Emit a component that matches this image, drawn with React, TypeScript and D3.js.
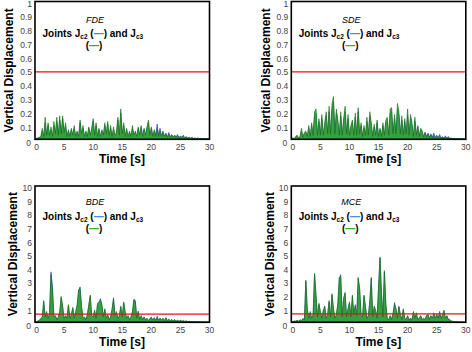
import * as d3 from 'd3';

// samples are 0.25 s apart, 0..30 s (121 values per series)
const STEP = 0.25;

const xTicks = [0, 5, 10, 15, 20, 25, 30];
const smallYTicks = [0, 0.1, 0.2, 0.3, 0.4, 0.5, 0.6, 0.7, 0.8, 0.9, 1];
const largeYTicks = [0, 1, 2, 3, 4, 5, 6, 7, 8, 9, 10];

// limit lines
const fdeLimit = 0.49;
const sdeLimit = 0.49;
const bdeLimit = 0.6;
const mceLimit = 0.62;

// FDE
const fdeJc3 = [
  0, 0.005, 0.01, 0.015, 0.02, 0.08, 0.02, 0.16, 0.03, 0.12, 0.03, 0.09, 0.02, 0.13, 0.04, 0.16, 0.03, 0.17, 0.04, 0.17,
  0.05, 0.12, 0.02, 0.07, 0.02, 0.08, 0.03, 0.1, 0.02, 0.06, 0.02, 0.14, 0.04, 0.1, 0.02, 0.06, 0.02, 0.09, 0.03, 0.08,
  0.15, 0.03, 0.12, 0.02, 0.08, 0.02, 0.07, 0.03, 0.12, 0.04, 0.13, 0.03, 0.1, 0.02, 0.09, 0.03, 0.05, 0.16, 0.03, 0.22,
  0.04, 0.12, 0.02, 0.08, 0.02, 0.06, 0.02, 0.1, 0.03, 0.06, 0.02, 0.09, 0.03, 0.1, 0.02, 0.08, 0.03, 0.09, 0.14, 0.03,
  0.09, 0.02, 0.07, 0.02, 0.07, 0.02, 0.06, 0.02, 0.05, 0.02, 0.04, 0.015, 0.035, 0.015, 0.03, 0.015, 0.03, 0.012, 0.025, 0.01,
  0.02, 0.015, 0.02, 0.01, 0.015, 0.01, 0.012, 0.008, 0.01, 0.006, 0.008, 0.005, 0.006, 0.004, 0.005, 0.004, 0.004, 0.003, 0.004, 0.003,
  0.003,
];
const fdeJc2 = [
  0, 0.004, 0.008, 0.012, 0.015, 0.06, 0.015, 0.12, 0.025, 0.1, 0.02, 0.07, 0.015, 0.1, 0.03, 0.13, 0.025, 0.14, 0.03, 0.15,
  0.04, 0.1, 0.015, 0.06, 0.015, 0.07, 0.02, 0.08, 0.015, 0.05, 0.015, 0.12, 0.03, 0.08, 0.015, 0.05, 0.015, 0.08, 0.02, 0.07,
  0.13, 0.025, 0.1, 0.015, 0.07, 0.015, 0.06, 0.02, 0.1, 0.03, 0.11, 0.02, 0.08, 0.015, 0.07, 0.02, 0.04, 0.14, 0.02, 0.19,
  0.03, 0.1, 0.015, 0.07, 0.015, 0.05, 0.015, 0.08, 0.02, 0.05, 0.015, 0.08, 0.02, 0.09, 0.015, 0.07, 0.02, 0.08, 0.12, 0.02,
  0.08, 0.02, 0.06, 0.03, 0.11, 0.03, 0.08, 0.02, 0.06, 0.02, 0.045, 0.015, 0.05, 0.015, 0.035, 0.015, 0.03, 0.015, 0.035, 0.012,
  0.025, 0.012, 0.03, 0.01, 0.02, 0.008, 0.015, 0.007, 0.014, 0.006, 0.01, 0.005, 0.01, 0.005, 0.008, 0.004, 0.007, 0.004, 0.006, 0.004,
  0.004,
];

// SDE
const sdeJc3 = [
  0, 0.01, 0.005, 0.02, 0.03, 0.01, 0.02, 0.08, 0.015, 0.05, 0.06, 0.02, 0.1, 0.02, 0.12, 0.03, 0.2, 0.22, 0.03, 0.15,
  0.03, 0.18, 0.03, 0.12, 0.2, 0.04, 0.24, 0.04, 0.26, 0.31, 0.04, 0.22, 0.14, 0.03, 0.2, 0.03, 0.15, 0.24, 0.04, 0.18,
  0.03, 0.1, 0.14, 0.03, 0.19, 0.03, 0.23, 0.04, 0.12, 0.02, 0.1, 0.03, 0.16, 0.03, 0.2, 0.12, 0.02, 0.11, 0.03, 0.14,
  0.02, 0.08, 0.02, 0.12, 0.03, 0.14, 0.16, 0.03, 0.22, 0.23, 0.04, 0.18, 0.04, 0.26, 0.2, 0.04, 0.17, 0.03, 0.15, 0.04,
  0.22, 0.03, 0.18, 0.12, 0.02, 0.16, 0.03, 0.1, 0.02, 0.08, 0.06, 0.015, 0.05, 0.012, 0.04, 0.01, 0.03, 0.01, 0.025, 0.008,
  0.02, 0.015, 0.018, 0.01, 0.012, 0.008, 0.01, 0.006, 0.012, 0.005, 0.006, 0.004, 0.005, 0.003, 0.004, 0.003, 0.003, 0.002, 0.003, 0.002,
  0.002,
];
const sdeJc2 = [
  0, 0.008, 0.004, 0.015, 0.025, 0.008, 0.015, 0.06, 0.01, 0.04, 0.05, 0.015, 0.08, 0.015, 0.1, 0.02, 0.17, 0.19, 0.02, 0.13,
  0.025, 0.15, 0.02, 0.1, 0.17, 0.03, 0.2, 0.03, 0.22, 0.27, 0.03, 0.19, 0.12, 0.02, 0.17, 0.02, 0.13, 0.2, 0.03, 0.15,
  0.02, 0.08, 0.12, 0.02, 0.16, 0.02, 0.2, 0.03, 0.1, 0.015, 0.08, 0.02, 0.13, 0.02, 0.17, 0.1, 0.015, 0.09, 0.02, 0.12,
  0.015, 0.07, 0.015, 0.1, 0.02, 0.12, 0.13, 0.02, 0.19, 0.2, 0.03, 0.15, 0.03, 0.22, 0.17, 0.03, 0.14, 0.02, 0.13, 0.03,
  0.18, 0.02, 0.15, 0.1, 0.015, 0.13, 0.02, 0.09, 0.015, 0.07, 0.05, 0.02, 0.05, 0.02, 0.045, 0.015, 0.04, 0.015, 0.045, 0.012,
  0.03, 0.012, 0.035, 0.01, 0.02, 0.008, 0.025, 0.007, 0.02, 0.006, 0.01, 0.005, 0.008, 0.004, 0.006, 0.004, 0.005, 0.003, 0.004, 0.003,
  0.003,
];

// BDE
const bdeJc3 = [
  0, 0.05, 0.1, 0.15, 0.3, 0.4, 1.6, 0.4, 0.8, 0.3, 0.7, 3.5, 2.4, 0.4, 0.5, 0.2, 0.4, 0.8, 1.9, 1.2,
  0.3, 0.5, 0.3, 1.3, 0.3, 0.6, 1.1, 0.3, 0.8, 1.3, 2.4, 2.5, 1.2, 0.3, 0.4, 0.2, 0.6, 1.3, 2.0, 0.5,
  0.4, 0.9, 0.3, 1.4, 1.5, 1.6, 1.3, 0.4, 1.0, 0.3, 0.6, 0.2, 0.4, 1.0, 1.7, 0.5, 0.8, 0.3, 0.5, 1.2,
  0.4, 1.5, 0.8, 0.3, 0.5, 0.2, 0.4, 0.8, 1.6, 1.5, 0.3, 0.8, 0.2, 0.5, 0.2, 0.4, 0.2, 0.3, 0.15, 0.25,
  0.3, 0.15, 0.35, 0.15, 0.3, 0.15, 0.3, 0.15, 0.3, 0.12, 0.35, 0.12, 0.25, 0.1, 0.2, 0.1, 0.2, 0.08, 0.15, 0.08,
  0.15, 0.08, 0.12, 0.06, 0.1, 0.05, 0.08, 0.04, 0.06, 0.04, 0.05, 0.03, 0.04, 0.03, 0.03, 0.02, 0.03, 0.02, 0.02, 0.02,
  0.02,
];
const bdeJc2 = [
  0, 0.04, 0.08, 0.12, 0.25, 0.35, 1.5, 0.35, 0.7, 0.25, 0.6, 3.7, 2.6, 0.35, 0.45, 0.2, 0.35, 0.7, 1.8, 1.1,
  0.25, 0.45, 0.25, 1.25, 0.25, 0.5, 1.0, 0.25, 0.7, 1.2, 2.3, 2.6, 1.1, 0.25, 0.35, 0.2, 0.5, 1.2, 1.9, 0.45,
  0.35, 0.8, 0.25, 1.3, 1.4, 1.75, 1.2, 0.35, 0.9, 0.25, 0.5, 0.2, 0.35, 0.9, 1.8, 0.45, 0.7, 0.25, 0.45, 1.1,
  0.35, 1.4, 0.7, 0.25, 0.45, 0.2, 0.35, 0.7, 1.7, 1.6, 0.25, 0.8, 0.2, 0.45, 0.2, 0.35, 0.2, 0.25, 0.15, 0.25,
  0.4, 0.15, 0.3, 0.15, 0.45, 0.15, 0.3, 0.15, 0.25, 0.12, 0.3, 0.12, 0.2, 0.1, 0.2, 0.08, 0.18, 0.08, 0.14, 0.08,
  0.12, 0.08, 0.1, 0.06, 0.09, 0.05, 0.07, 0.04, 0.06, 0.04, 0.05, 0.03, 0.04, 0.03, 0.03, 0.02, 0.03, 0.02, 0.02, 0.02,
  0.02,
];

// MCE
const mceJc3 = [
  0, 0.05, 0.1, 0.08, 0.15, 0.08, 0.2, 0.1, 0.3, 0.15, 3.1, 1.0, 0.3, 0.8, 0.3, 0.6, 3.6, 2.0, 0.4, 1.4,
  0.8, 0.3, 0.9, 1.1, 0.3, 0.6, 1.6, 0.4, 2.1, 1.0, 0.3, 0.6, 1.4, 3.3, 3.3, 0.4, 1.8, 2.2, 0.4, 1.0,
  1.5, 0.4, 2.0, 0.6, 1.3, 0.5, 3.3, 2.5, 0.5, 0.4, 2.0, 1.2, 0.3, 0.5, 1.6, 3.2, 0.4, 1.2, 0.9, 0.3,
  2.6, 4.8, 2.2, 0.4, 3.8, 1.4, 0.3, 0.2, 0.5, 0.2, 0.7, 1.3, 1.0, 0.3, 1.2, 0.6, 0.2, 1.0, 0.3, 0.2,
  0.5, 0.15, 0.3, 0.15, 0.8, 0.3, 0.7, 0.2, 0.3, 0.5, 0.2, 0.3, 0.2, 0.5, 0.6, 0.2, 0.5, 0.3, 0.7, 0.3,
  0.6, 0.3, 0.7, 0.3, 0.6, 0.9, 0.3, 0.5, 0.2, 0.2, 0.1, 0.08, 0.05, 0.04, 0.03, 0.02, 0.02, 0.02, 0.01, 0.01,
  0.01,
];
const mceJc2 = [
  0, 0.04, 0.08, 0.07, 0.12, 0.07, 0.15, 0.08, 0.25, 0.12, 3.0, 0.9, 0.25, 0.7, 0.25, 0.5, 3.5, 1.9, 0.35, 1.3,
  0.7, 0.25, 0.8, 1.2, 0.25, 0.5, 1.5, 0.35, 2.0, 0.9, 0.25, 0.5, 1.3, 3.2, 3.5, 0.35, 1.7, 2.1, 0.35, 0.9,
  1.4, 0.35, 1.9, 0.5, 1.2, 0.45, 3.2, 2.4, 0.45, 0.35, 1.9, 1.1, 0.25, 0.45, 1.5, 3.3, 0.35, 1.1, 0.8, 0.25,
  2.5, 4.7, 2.1, 0.35, 3.7, 1.3, 0.25, 0.2, 0.45, 0.2, 0.6, 1.45, 0.9, 0.25, 1.1, 0.5, 0.2, 0.9, 0.25, 0.2,
  0.45, 0.15, 0.3, 0.15, 0.7, 0.25, 0.6, 0.2, 0.3, 0.45, 0.2, 0.25, 0.2, 0.45, 0.55, 0.2, 0.45, 0.25, 0.6, 0.25,
  0.55, 0.25, 0.8, 0.25, 0.5, 0.8, 0.25, 0.45, 0.2, 0.15, 0.08, 0.06, 0.04, 0.03, 0.02, 0.02, 0.015, 0.01, 0.01, 0.01,
  0.01,
];

const FONT = "'Liberation Sans', Arial, Helvetica, sans-serif";
const GREEN_FILL = '#35a235';
const GREEN_LINE = '#0e6f0e';
const BLUE_FILL = '#5a7fd4';
const BLUE_LINE = '#1c35a8';

const panels = [
  { title: 'FDE', jc2: fdeJc2, jc3: fdeJc3, limit: fdeLimit, yMax: 1, yTicks: smallYTicks,
    left: 35, top: 1.5, bottom: 139.3, labelX: 9, textDy: [21, 35.5, 47] },
  { title: 'SDE', jc2: sdeJc2, jc3: sdeJc3, limit: sdeLimit, yMax: 1, yTicks: smallYTicks,
    left: 291.3, top: 1.5, bottom: 139.3, labelX: 266, textDy: [21, 35.5, 47] },
  { title: 'BDE', jc2: bdeJc2, jc3: bdeJc3, limit: bdeLimit, yMax: 10, yTicks: largeYTicks,
    left: 35, top: 186, bottom: 322.3, labelX: 12.5, textDy: [18.5, 33.5, 45.5] },
  { title: 'MCE', jc2: mceJc2, jc3: mceJc3, limit: mceLimit, yMax: 10, yTicks: largeYTicks,
    left: 291.3, top: 186, bottom: 322.3, labelX: 270, textDy: [18.5, 33.5, 45.5] },
];

const PLOT_W = 174.5;

function Panel({ p }: { p: (typeof panels)[number] }) {
  const x = d3.scaleLinear().domain([0, 30]).range([p.left, p.left + PLOT_W]);
  const y = d3.scaleLinear().domain([0, p.yMax]).range([p.bottom, p.top]);
  const area = d3.area<number>()
    .x((_, i) => x(i * STEP))
    .y0(y(0))
    .y1(d => y(d));
  const midY = (p.top + p.bottom) / 2;
  const fmt = p.yMax === 1 ? d3.format('.1~f') : d3.format('d');

  return (
    <g>
      <path d={area(p.jc2) ?? ''} fill={BLUE_FILL} stroke={BLUE_LINE} strokeWidth={0.6} />
      <path d={area(p.jc3) ?? ''} fill={GREEN_FILL} stroke={GREEN_LINE} strokeWidth={0.6} fillOpacity={0.92} />
      <line x1={x(0)} x2={x(30)} y1={y(p.limit)} y2={y(p.limit)} stroke="#e3141b" strokeWidth={1.3} />
      <rect x={p.left} y={p.top} width={PLOT_W} height={p.bottom - p.top}
        fill="none" stroke="#000" strokeWidth={1.6} />

      {p.yTicks.map(t => (
        <text key={'y' + t} x={p.left - (t === 0 ? 4 : 3)} y={y(t) + (t === 0 ? 6.5 : 5)}
          textAnchor="end" fontSize={8.5} fill="#444" fontFamily={FONT}>{fmt(t)}</text>
      ))}
      {xTicks.map(t => (
        <text key={'x' + t} x={x(t) + (t === 0 ? 1.5 : 0)} y={p.bottom + 10.5}
          textAnchor="middle" fontSize={8.5} fill="#444" fontFamily={FONT}>{t}</text>
      ))}

      <text x={p.left + 87} y={p.bottom + 23.5} textAnchor="middle" fontSize={12}
        fontWeight="bold" fontFamily={FONT}>Time [s]</text>
      <text transform={`translate(${p.labelX},${midY}) rotate(-90)`} dy="0.35em"
        textAnchor="middle" fontSize={12} fontWeight="bold" fontFamily={FONT}>Vertical Displacement</text>

      <text x={p.left + 60} y={p.top + p.textDy[0]} textAnchor="middle" fontSize={9}
        fontStyle="italic" fontFamily={FONT}>{p.title}</text>
      <text x={p.left + 7.5} y={p.top + p.textDy[1]} fontSize={10} fontWeight="bold" fontFamily={FONT}>
        Joints J<tspan fontSize={6.5} dy={2}>c2</tspan>
        <tspan dy={-2}> (</tspan><tspan fill="#4a8fe0">—</tspan>
        <tspan>) and J</tspan><tspan fontSize={6.5} dy={2}>c3</tspan>
      </text>
      <text x={p.left + 59} y={p.top + p.textDy[2]} textAnchor="middle" fontSize={10}
        fontWeight="bold" fontFamily={FONT}>
        (<tspan fill="#2fb32f">—</tspan>)
      </text>
    </g>
  );
}

export default function App() {
  return (
    <svg width={472} height={352} style={{ position: 'absolute', left: 0, top: 0, background: '#fff' }}>
      {panels.map(p => <Panel key={p.title} p={p} />)}
    </svg>
  );
}
